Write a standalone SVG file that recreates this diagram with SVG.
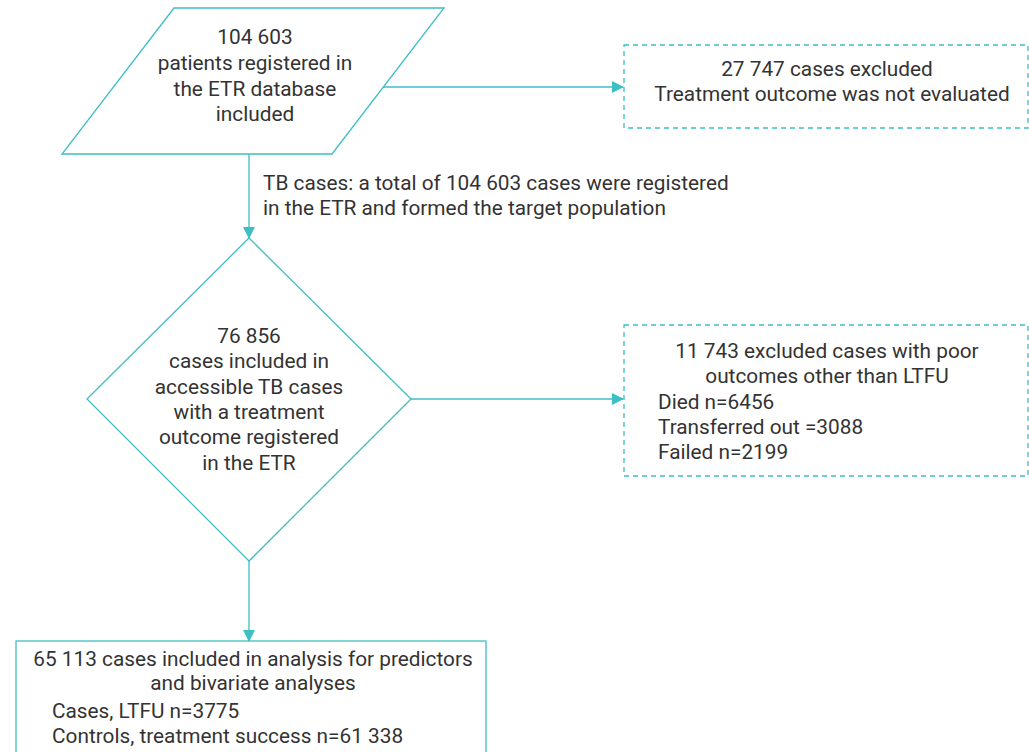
<svg xmlns="http://www.w3.org/2000/svg" width="1029" height="752" viewBox="0 0 1029 752">
<style>
.s{fill:#fff;stroke:#3dbfc4;stroke-width:1.3}
.d{fill:#fff;stroke:#3dbfc4;stroke-width:1.3;stroke-dasharray:5 4}
.c{fill:none;stroke:#3dbfc4;stroke-width:1.3}
text{font-family:Roboto,"Liberation Sans",sans-serif;font-size:20.8px;fill:#333}
.m{text-anchor:middle}
</style>
<defs>
<marker id="ah" markerWidth="12" markerHeight="12" refX="11" refY="6" orient="auto" markerUnits="userSpaceOnUse">
<path d="M0,0 L12,6 L0,12 Z" fill="#3dbfc4"/>
</marker>
</defs>
<rect width="1029" height="752" fill="#fff"/>
<g id="connectors">
<path class="c" d="M383,87 H623" marker-end="url(#ah)"/>
<path class="c" d="M249,154 V238" marker-end="url(#ah)"/>
<path class="c" d="M411,399 H623" marker-end="url(#ah)"/>
<path class="c" d="M249,561 V641" marker-end="url(#ah)"/>
<text x="263" y="190">TB cases: a total of 104 603 cases were registered</text>
<text x="263" y="215">in the ETR and formed the target population</text>
</g>
<g id="n1">
<polygon class="s" points="174,8 444,8 332,154 62,154"/>
<text class="m" x="255" y="44">104 603</text>
<text class="m" x="255" y="70">patients registered in</text>
<text class="m" x="255" y="96">the ETR database</text>
<text class="m" x="255" y="121">included</text>
</g>
<g id="n2">
<rect class="d" x="624" y="45" width="404" height="83"/>
<text class="m" x="827" y="76">27 747 cases excluded</text>
<text class="m" x="832" y="101">Treatment outcome was not evaluated</text>
</g>
<g id="n3">
<polygon class="s" points="249,238 411,399 249,561 87,399"/>
<text class="m" x="249" y="343">76 856</text>
<text class="m" x="249" y="368">cases included in</text>
<text class="m" x="249" y="394">accessible TB cases</text>
<text class="m" x="249" y="419">with a treatment</text>
<text class="m" x="249" y="444">outcome registered</text>
<text class="m" x="249" y="470">in the ETR</text>
</g>
<g id="n4">
<rect class="d" x="624" y="325" width="404" height="151"/>
<text class="m" x="827" y="358">11 743 excluded cases with poor</text>
<text class="m" x="827" y="383">outcomes other than LTFU</text>
<text x="658" y="409">Died n=6456</text>
<text x="658" y="434">Transferred out =3088</text>
<text x="658" y="459">Failed n=2199</text>
</g>
<g id="n5">
<rect class="s" x="16" y="641" width="470" height="130"/>
<text class="m" x="253" y="666">65 113 cases included in analysis for predictors</text>
<text class="m" x="253" y="690">and bivariate analyses</text>
<text x="52" y="718">Cases, LTFU n=3775</text>
<text x="52" y="743">Controls, treatment success n=61 338</text>
</g>
</svg>
